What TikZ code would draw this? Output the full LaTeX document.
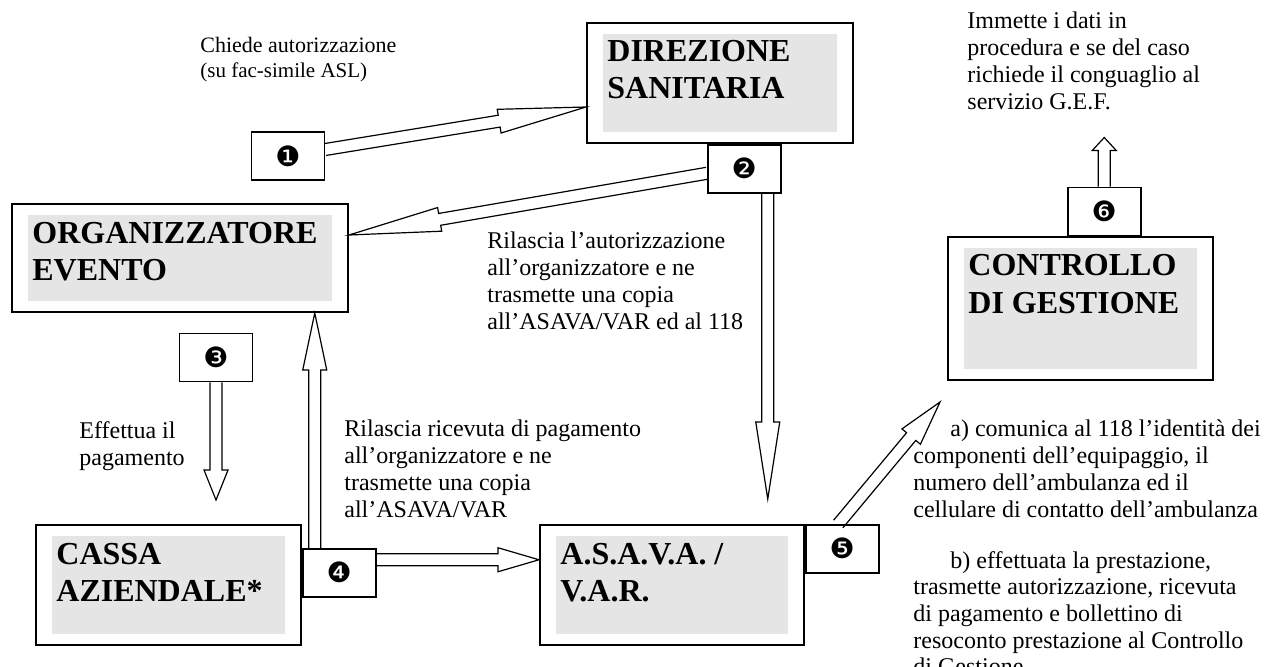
\documentclass[tikz,border=0pt]{standalone}
\usepackage{fontspec}
\setmainfont{Liberation Serif}
\newfontfamily\dingfont{DejaVu Sans}
\usetikzlibrary{positioning, calc, backgrounds}

% hollow block arrow: start, tip, head length
\newcommand{\blockarrow}[3]{%
  \filldraw[hollow] ($(#1)!3pt!90:(#2)$)
    -- ($(#2)!#3!(#1)!3pt!-90:(#1)$)
    -- ($(#2)!#3!(#1)!6pt!-90:(#1)$)
    -- (#2)
    -- ($(#2)!#3!(#1)!6pt!90:(#1)$)
    -- ($(#2)!#3!(#1)!3pt!90:(#1)$)
    -- ($(#1)!3pt!-90:(#2)$);}

\begin{document}
\begin{tikzpicture}[
    x=0.5pt, y=-0.5pt,
    unit/.style={rectangle, draw, line width=1pt, inner sep=0pt, minimum width=132.5pt, minimum height=60pt,
      path picture={\fill[black!10] ([xshift=8pt,yshift=5.5pt]path picture bounding box.south west)
        rectangle ([xshift=-8pt,yshift=-5.5pt]path picture bounding box.north east);}},
    unitname/.style={anchor=north west, inner sep=0pt, align=left, font=\fontsize{16}{18.5}\selectfont\bfseries},
    stepno/.style={rectangle, draw, line width=0.75pt, inner sep=0pt, minimum width=36.5pt, minimum height=24pt,
      font=\dingfont\fontsize{14}{14}\selectfont},
    note/.style={anchor=north west, inner sep=0pt, align=left, font=\fontsize{12}{13.5}\selectfont},
    hollow/.style={draw, fill=white, line width=0.6pt, line join=miter}
]
    \useasboundingbox (0,0) rectangle (1268,666);

    % offices
    \node[unit, minimum width=133pt] (dir) at (720,83) {};
    \node[unitname] (dir-t) at ([xshift=10.5pt,yshift=-9.2pt]dir.north west) {DIREZIONE\\SANITARIA};
    \node[unit, minimum width=168pt, minimum height=54pt] (org) at (180,258) {};
    \node[unitname] (org-t) at ([xshift=10.5pt,yshift=-9.2pt]org.north west) {ORGANIZZATORE\\EVENTO};
    \node[unit] (cas) at (168.5,585) {};
    \node[unitname] (cas-t) at ([xshift=10.5pt,yshift=-9.2pt]cas.north west) {CASSA\\AZIENDALE*};
    \node[unit, minimum width=132pt] (asv) at (672,585) {};
    \node[unitname] (asv-t) at ([xshift=10.5pt,yshift=-9.2pt]asv.north west) {A.S.A.V.A. /\\V.A.R.};
    \node[unit, minimum height=71.5pt] (ctl) at (1080.5,308.5) {};
    \node[unitname] (ctl-t) at ([xshift=10.5pt,yshift=-9.2pt]ctl.north west) {CONTROLLO\\DI GESTIONE};

    % numbered steps
    \node[stepno] (b1) at (288,156) {❶};
    \node[stepno, anchor=north west] (b2) at ([xshift=60.5pt]dir.south west) {❷};
    \node[stepno] (b3) at (216,357.5) {❸};
    \node[stepno, anchor=north west] (b4) at ([yshift=-12pt]cas.north east) {❹};
    \node[stepno, anchor=north west] (b5) at (asv.north east) {❺};
    \node[stepno, anchor=south west] (b6) at ([xshift=60pt]ctl.north west) {❻};

    % texts
    \node[note, font=\fontsize{11}{12.5}\selectfont] (ask) at (200,37)
        {Chiede autorizzazione\\{\fontsize{10.5}{12.5}\selectfont(su fac-simile ASL)}};
    \node[note] (grant) at (487,231)
        {Rilascia l’autorizzazione\\all’organizzatore e ne\\trasmette una copia\\all’ASAVA/VAR ed al 118};
    \node[note] (pay) at (79,421) {Effettua il\\pagamento};
    \node[note] (receipt) at (344,419)
        {Rilascia ricevuta di pagamento\\all’organizzatore e ne\\trasmette una copia\\all’ASAVA/VAR};
    \node[note] (gef) at (967,11)
        {Immette i dati in\\procedura e se del caso\\richiede il conguaglio al\\servizio G.E.F.};
    \node[note] (task-a) at (913,419)
        {\hspace*{18.5pt}a) comunica al 118 l’identità dei\\componenti dell’equipaggio, il\\numero dell’ambulanza ed il\\cellulare di contatto dell’ambulanza};
    \node[note, font=\fontsize{12}{13.3}\selectfont] (task-b) at (913,551)
        {\hspace*{18.5pt}b) effettuata la prestazione,\\trasmette autorizzazione, ricevuta\\di pagamento e bollettino di\\resoconto prestazione al Controllo\\di Gestione.};

    % arrow ends
    \coordinate (s1) at ([yshift=3.25pt]b1.east);
    \coordinate (t1) at ([yshift=-12pt]dir.west);
    \coordinate (s2) at ([yshift=-2.25pt]b2.west);
    \coordinate (t2) at ([yshift=11.5pt]org.east);
    \coordinate (s2b) at ([xshift=11.75pt]b2.south);
    \coordinate (t2b) at ([yshift=12.5pt]s2b |- asv.north);
    \coordinate (s3) at (b3.south);
    \coordinate (t3) at ([yshift=12pt]s3 |- cas.north);
    \coordinate (s4) at ([xshift=-12.25pt]b4.north);
    \coordinate (t4) at (s4 |- org.south);
    \coordinate (s4b) at ([yshift=6.5pt]b4.east);
    \coordinate (t4b) at (s4b -| asv.west);
    \coordinate (s5) at ([xshift=-2pt]b5.north);
    \coordinate (t5) at ([xshift=-3.5pt,yshift=-10.5pt]ctl.south west);
    \coordinate (s6) at (b6.north);
    \coordinate (t6) at ([yshift=24.5pt]b6.north);

    % arrows
    \begin{scope}[on background layer]
        \blockarrow{s1}{t1}{44pt}
        \blockarrow{s2}{t2}{46pt}
        \blockarrow{s2b}{t2b}{38.5pt}
        \blockarrow{s3}{t3}{15pt}
        \blockarrow{s4}{t4}{28.5pt}
        \blockarrow{s4b}{t4b}{20.5pt}
        \blockarrow{s5}{t5}{22.5pt}
        \blockarrow{s6}{t6}{6.5pt}
    \end{scope}
\end{tikzpicture}
\end{document}
